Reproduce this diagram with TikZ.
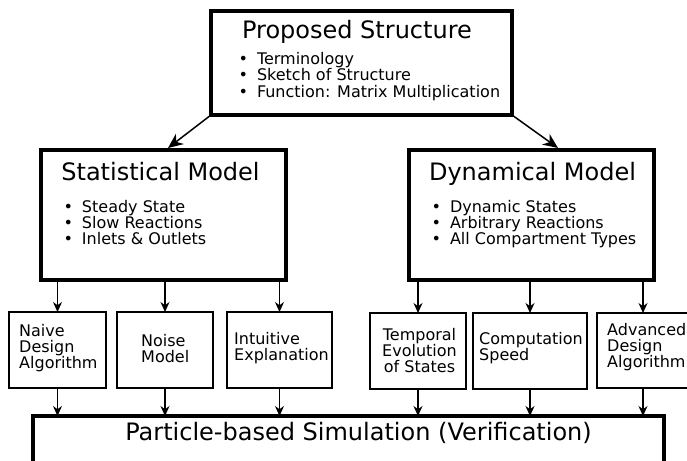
\documentclass[tikz,border=0pt]{standalone}
\usepackage{fontspec}
\setmainfont{DejaVu Sans}
\usetikzlibrary{arrows.meta}

\newcommand{\bul}{\makebox[18.5pt][l]{\textbullet}}

\begin{document}
\begin{tikzpicture}[x=1pt, y=-1pt, >={Stealth[length=10pt,width=9pt]},
  bigbox/.style={draw, line width=3.4pt, anchor=north west, inner sep=0pt, outer sep=0pt},
  smallbox/.style={draw, line width=1.9pt, anchor=north west, inner sep=0pt, outer sep=0pt},
  headtext/.style={anchor=base, inner sep=0pt, font=\fontsize{24}{28}\selectfont},
  itemlist/.style={anchor=north west, align=left, inner sep=0pt, font=\fontsize{16}{16}\selectfont},
  boxtext/.style={anchor=north west, align=left, inner sep=0pt, font=\fontsize{16}{16}\selectfont},
  bigarrow/.style={->, line width=1.5pt, >={Stealth[length=15pt,width=13pt]}},
  smallarrow/.style={->, line width=1.2pt}]

\path[use as bounding box, clip] (0,0) rectangle (687,460);
\fill[white] (0,0) rectangle (687,460);

% oberste Box
\node[bigbox, minimum width=301pt, minimum height=104pt] (prop) at (211,11) {};
\node[headtext] (proptitle) at (357,39) {Proposed Structure};
\node[itemlist, font=\fontsize{16}{16.5}\selectfont] (proplist) at (238.3,51.8)
  {\bul Terminology\\ \bul Sketch of Structure\\ \bul Function: Matrix Multiplication};

% die beiden Modelle
\node[bigbox, minimum width=245pt, minimum height=130pt] (stat) at (41,150) {};
\node[headtext] (stattitle) at (160.5,180.7) {Statistical Model};
\node[itemlist] (statlist) at (63.3,200.5)
  {\bul Steady State\\ \bul Slow Reactions\\ \bul Inlets \& Outlets};

\node[bigbox, minimum width=245pt, minimum height=130pt] (dyn) at (409,150) {};
\node[headtext] (dyntitle) at (532.5,180.7) {Dynamical Model};
\node[itemlist] (dynlist) at (431.3,200.5)
  {\bul Dynamic States\\ \bul Arbitrary Reactions\\ \bul All Compartment Types};

% Pfeile von oben
\coordinate (statin) at (168,148); % Spitze links
\coordinate (dynin) at (558,148);  % Spitze rechts
\draw[bigarrow] (prop.south west) -- (statin);
\draw[bigarrow] (prop.south east) -- (dynin);

% kleine Boxen
\node[smallbox, minimum width=97pt, minimum height=76pt] (naive) at (9,312) {};
\node[smallbox, minimum width=96pt, minimum height=76pt] (noise) at (117,312) {};
\node[smallbox, minimum width=105pt, minimum height=76pt] (intuit) at (227,312) {};
\node[smallbox, minimum width=96pt, minimum height=76pt] (temporal) at (370,313) {};
\node[smallbox, minimum width=114pt, minimum height=76pt] (speed) at (473,313) {};
\node[smallbox, minimum width=92pt, minimum height=75pt] (advanced) at (597,313) {};

\node[boxtext] (naivetext) at (19,324.5) {Naive\\Design\\Algorithm};
\node[boxtext] (noisetext) at (141,334.5) {Noise\\Model};
\node[boxtext] (intuittext) at (234,331.8) {Intuitive\\Explanation};
\node[boxtext, anchor=north, align=center] (temporaltext) at (419.5,328.5) {Temporal\\Evolution\\of States};
\node[boxtext] (speedtext) at (479,331.8) {Computation\\Speed};
\node[boxtext] (advancedtext) at (607,323.5) {Advanced\\Design\\Algorithm};

% Simulation unten
\node[bigbox, minimum width=631pt, minimum height=80pt] (sim) at (33,416) {};
\node[headtext] (simtitle) at (358.5,440) {Particle-based Simulation (Verification)};

% Pfeile nach unten
\draw[smallarrow] (stat.south -| naive) -- (naive);
\draw[smallarrow] (stat.south -| noise) -- (noise);
\draw[smallarrow] (stat.south -| intuit) -- (intuit);
\draw[smallarrow] (dyn.south -| temporal) -- (temporal);
\draw[smallarrow] (dyn.south -| speed) -- (speed);
\draw[smallarrow] (dyn.south -| advanced) -- (advanced);

\draw[smallarrow] (naive) -- (naive |- sim.north);
\draw[smallarrow] (noise) -- (noise |- sim.north);
\draw[smallarrow] (intuit) -- (intuit |- sim.north);
\draw[smallarrow] (temporal) -- (temporal |- sim.north);
\draw[smallarrow] (speed) -- (speed |- sim.north);
\draw[smallarrow] (advanced) -- (advanced |- sim.north);

\end{tikzpicture}
\end{document}
